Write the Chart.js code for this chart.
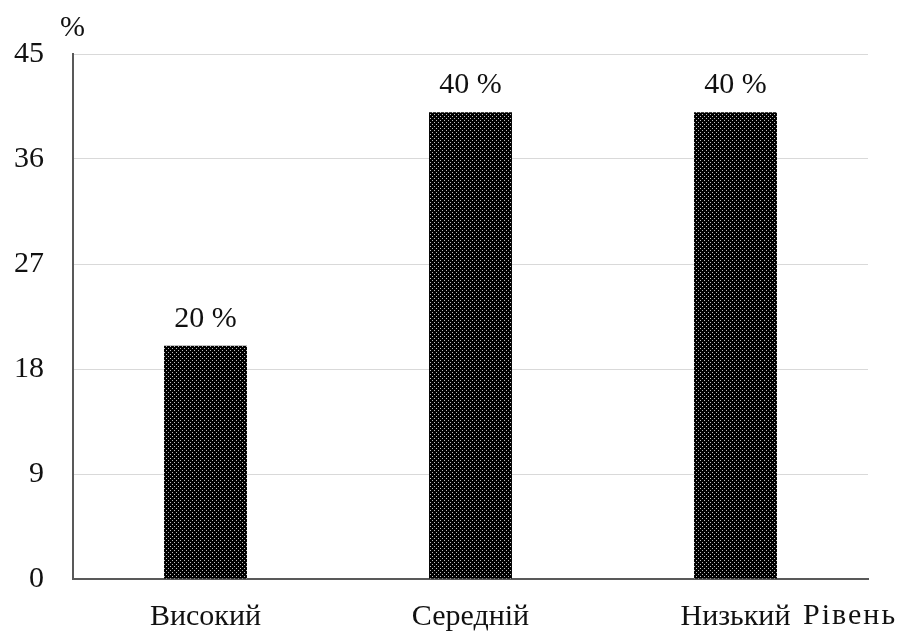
<!DOCTYPE html>
<html>
<head>
<meta charset="utf-8">
<script src="https://cdn.jsdelivr.net/npm/chart.js@4/dist/chart.umd.min.js"></script>
<style>
  html, body { margin: 0; padding: 0; background: #fff; }
  #wrap { width: 898px; height: 632px; }
</style>
</head>
<body>
<div id="wrap"><canvas id="c" width="898" height="632"></canvas></div>
<script>
const categories = ['Високий', 'Середній', 'Низький'];
const values = [20, 40, 40];
const valueLabels = ['20 %', '40 %', '40 %'];
const yTicks = [0, 9, 18, 27, 36, 45];
const xAxisTitle = 'Рівень';
const yAxisTitle = '%';

const FONT = '"Liberation Serif", "Times New Roman", serif';
const FONT_SIZE = 30;
const TEXT_COLOR = '#111';

// dotted black fill for the bars
function dotPattern() {
  const p = document.createElement('canvas');
  p.width = 4; p.height = 4;
  const g = p.getContext('2d');
  g.fillStyle = '#000';
  g.fillRect(0, 0, 4, 4);
  g.fillStyle = 'rgba(255,255,255,0.75)';
  g.fillRect(0, 0, 1, 1);
  g.fillRect(2, 2, 1, 1);
  return g.createPattern(p, 'repeat');
}

const extraText = {
  id: 'extraText',
  afterDatasetsDraw(chart) {
    const ctx = chart.ctx;
    ctx.save();
    ctx.fillStyle = TEXT_COLOR;
    ctx.font = FONT_SIZE + 'px ' + FONT;
    // value labels above bars
    const meta = chart.getDatasetMeta(0);
    ctx.textAlign = 'center';
    ctx.textBaseline = 'alphabetic';
    meta.data.forEach((bar, i) => {
      const { x, y } = bar.getProps(['x', 'y'], true);
      ctx.fillText(valueLabels[i], x, y - 19);
    });
    // axis titles
    const area = chart.chartArea;
    ctx.textAlign = 'left';
    ctx.fillText(yAxisTitle, 60, 36);
    if ('letterSpacing' in ctx) ctx.letterSpacing = '2px';
    ctx.fillText(xAxisTitle, 803, area.bottom + 45);
    ctx.restore();
  }
};

new Chart(document.getElementById('c'), {
  type: 'bar',
  data: {
    labels: categories,
    datasets: [{
      data: values,
      backgroundColor: dotPattern(),
      borderWidth: 0,
      categoryPercentage: 1,
      barPercentage: 0.313
    }]
  },
  options: {
    responsive: false,
    animation: false,
    layout: { padding: { top: 54, right: 30, left: 0, bottom: 0 } },
    plugins: { legend: { display: false }, tooltip: { enabled: false } },
    scales: {
      x: {
        grid: { display: false, drawTicks: false },
        border: { display: true, color: '#595959', width: 2 },
        ticks: {
          color: TEXT_COLOR,
          font: { family: FONT, size: FONT_SIZE },
          padding: 20,
          maxRotation: 0
        },
        afterFit(s) { s.height = 53; }
      },
      y: {
        min: 0,
        max: 45,
        afterBuildTicks(s) { s.ticks = yTicks.map(v => ({ value: v })); },
        grid: { color: '#d9d9d9', lineWidth: 1, drawTicks: false },
        border: { display: true, color: '#595959', width: 2 },
        ticks: {
          color: TEXT_COLOR,
          font: { family: FONT, size: FONT_SIZE },
          padding: 29
        },
        afterFit(s) { s.width = 73; }
      }
    }
  },
  plugins: [extraText]
});
</script>
</body>
</html>
